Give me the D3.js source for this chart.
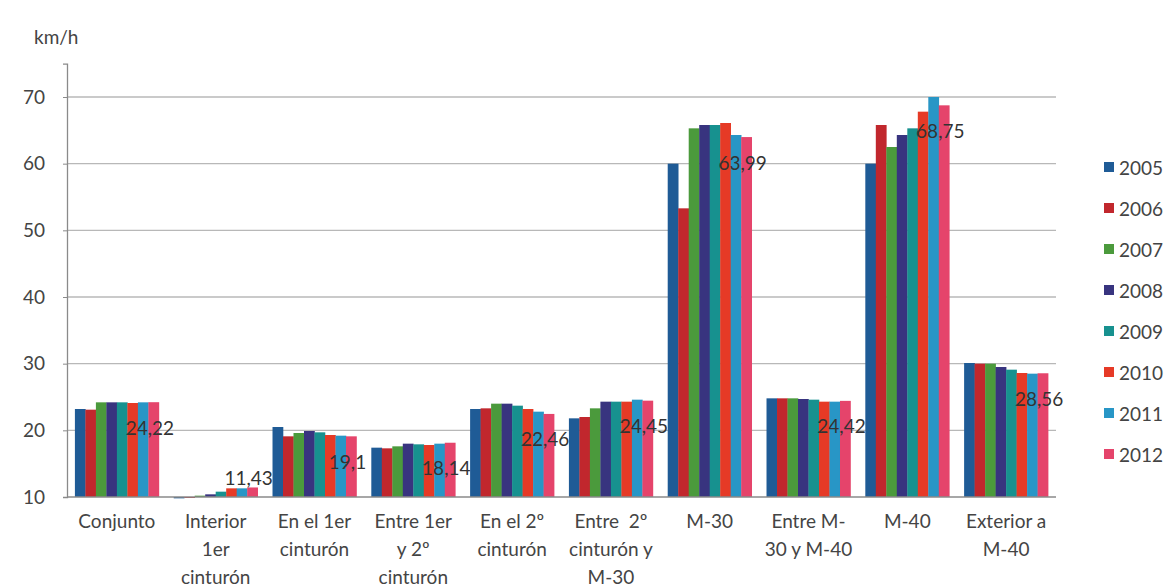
<!DOCTYPE html>
<html>
<head>
<meta charset="utf-8">
<script src="https://cdn.jsdelivr.net/npm/d3@7"></script>
<style>
  html, body { margin: 0; padding: 0; background: #fff; }
  svg { display: block; font-family: "Lato", "Liberation Sans", sans-serif; }
  .cat tspan { white-space: pre; }
</style>
</head>
<body>
<svg id="chart" width="1175" height="587"></svg>
<script>
// Average speed (km/h) by ring zone of Madrid, 2005-2012
const categories = [
  ["Conjunto"],
  ["Interior", "1er", "cinturón"],
  ["En el 1er", "cinturón"],
  ["Entre 1er", "y 2º", "cinturón"],
  ["En el 2º", "cinturón"],
  ["Entre  2º", "cinturón y", "M-30"],
  ["M-30"],
  ["Entre M-", "30 y M-40"],
  ["M-40"],
  ["Exterior a", "M-40"]
];
const years = ["2005", "2006", "2007", "2008", "2009", "2010", "2011", "2012"];

const v2005 = [23.2, 9.8, 20.5, 17.4, 23.2, 21.8, 60.0, 24.8, 60.0, 30.1];
const v2006 = [23.1, 9.9, 19.1, 17.3, 23.3, 22.0, 53.3, 24.8, 65.8, 30.0];
const v2007 = [24.2, 10.2, 19.6, 17.6, 24.0, 23.3, 65.3, 24.8, 62.5, 30.0];
const v2008 = [24.2, 10.4, 19.9, 18.0, 24.0, 24.3, 65.8, 24.7, 64.3, 29.5];
const v2009 = [24.2, 10.8, 19.7, 17.9, 23.7, 24.3, 65.8, 24.6, 65.3, 29.1];
const v2010 = [24.1, 11.3, 19.3, 17.8, 23.2, 24.3, 66.1, 24.3, 67.8, 28.6];
const v2011 = [24.2, 11.3, 19.2, 18.0, 22.8, 24.6, 64.3, 24.3, 70.0, 28.5];
const v2012 = [24.22, 11.43, 19.1, 18.14, 22.46, 24.45, 63.99, 24.42, 68.75, 28.56];

// 2012 values as printed next to each group
const labels2012 = ["24,22", "11,43", "19,1", "18,14", "22,46", "24,45", "63,99", "24,42", "68,75", "28,56"];

const yTicks = [10, 20, 30, 40, 50, 60, 70];

const series = [v2005, v2006, v2007, v2008, v2009, v2010, v2011, v2012];
const colors = ["#1f5b96", "#c1272d", "#4b9a3c", "#38347f", "#17918f", "#e63a26", "#2896c6", "#e5446b"];

const svg = d3.select("#chart");
const plot = { left: 67, right: 1056, bottom: 497 };
const fontSize = 19;

const catKeys = categories.map((c, i) => i);
const x0 = d3.scaleBand().domain(catKeys).range([plot.left, plot.right])
  .paddingInner(0.15).paddingOuter(0.08);
const x1 = d3.scaleBand().domain(years).range([0, x0.bandwidth()]);
const y = d3.scaleLinear().domain([10, 75]).range([plot.bottom, plot.bottom - 65 * 400 / 60]);
const color = d3.scaleOrdinal().domain(years).range(colors);

// gridlines
svg.append("g").selectAll("line")
  .data(yTicks.filter(t => t > 10))
  .join("line")
  .attr("x1", plot.left).attr("x2", plot.right)
  .attr("y1", d => y(d)).attr("y2", d => y(d))
  .attr("stroke", "#b8b8b8").attr("stroke-width", 1.3);

// y axis
const yAxis = svg.append("g")
  .attr("transform", `translate(${plot.left},0)`)
  .call(d3.axisLeft(y).tickValues(yTicks).tickSize(4).tickPadding(18).tickFormat(d3.format("d")));
yAxis.select(".domain").attr("stroke", "#8a8a8a").attr("stroke-width", 1.3);
yAxis.selectAll(".tick line").attr("stroke", "#8a8a8a");
yAxis.selectAll(".tick text").attr("fill", "#444").attr("font-size", fontSize).attr("font-family", "Lato, sans-serif");

// bars
const groups = svg.append("g").selectAll("g")
  .data(catKeys)
  .join("g")
  .attr("transform", i => `translate(${x0(i)},0)`);

groups.selectAll("rect")
  .data(i => years.map((yr, k) => ({ yr, v: series[k][i] })))
  .join("rect")
  .attr("x", d => x1(d.yr))
  .attr("width", x1.bandwidth() + 0.3)
  .attr("y", d => Math.min(y(d.v), y(10)))
  .attr("height", d => Math.max(1, Math.abs(y(10) - y(d.v))))
  .attr("fill", d => color(d.yr));

// x axis line
svg.append("line")
  .attr("x1", plot.left).attr("x2", plot.right)
  .attr("y1", y(10)).attr("y2", y(10))
  .attr("stroke", "#8a8a8a").attr("stroke-width", 1.3);

// data labels for 2012
svg.append("g").selectAll("text")
  .data(catKeys)
  .join("text")
  .attr("x", i => x0(i) + x0.bandwidth() / 2 + 33)
  .attr("y", i => {
    const top = y(v2012[i]);
    return (y(10) - top) < 25 ? top - 10 : top + 25;
  })
  .attr("dominant-baseline", "central")
  .attr("text-anchor", "middle")
  .attr("font-size", fontSize)
  .attr("fill", "#333")
  .text(i => labels2012[i]);

// category labels
const catText = svg.append("g").attr("class", "cat").selectAll("text")
  .data(catKeys)
  .join("text")
  .attr("text-anchor", "middle")
  .attr("font-size", fontSize)
  .attr("fill", "#444");
catText.selectAll("tspan")
  .data(i => categories[i].map(line => ({ i, line })))
  .join("tspan")
  .attr("x", d => x0(d.i) + x0.bandwidth() / 2)
  .attr("y", (d, k) => 528 + k * 28)
  .text(d => d.line);

// unit label
svg.append("text")
  .attr("x", 34).attr("y", 44)
  .attr("font-size", fontSize)
  .attr("fill", "#444")
  .text("km/h");

// legend
const legend = svg.append("g").selectAll("g")
  .data(years)
  .join("g")
  .attr("transform", (d, k) => `translate(1104,${167 + k * 41})`);
legend.append("rect")
  .attr("x", 0).attr("y", -5).attr("width", 10).attr("height", 10)
  .attr("fill", d => color(d));
legend.append("text")
  .attr("x", 15).attr("y", 0)
  .attr("dominant-baseline", "central")
  .attr("font-size", fontSize)
  .attr("fill", "#444")
  .text(d => d);
</script>
</body>
</html>
